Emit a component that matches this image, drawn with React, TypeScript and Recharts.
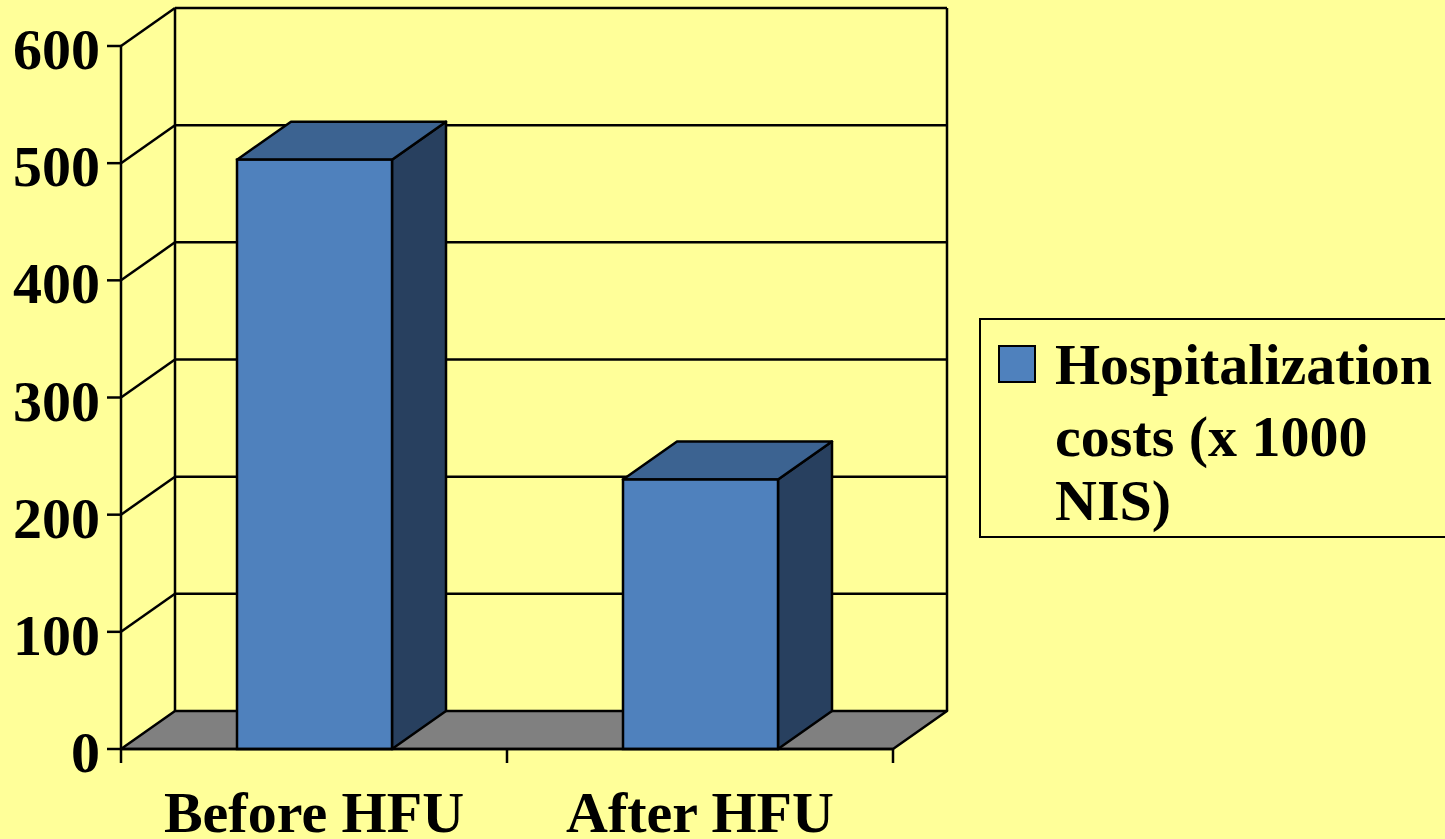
import React from 'react';
import { BarChart, Bar, XAxis, YAxis, CartesianGrid, Legend } from 'recharts';

// Hospitalization costs before and after the heart-failure unit (HFU)
const categories = ['Before HFU', 'After HFU'];
const costs = [503, 230];
const yTicks = [0, 100, 200, 300, 400, 500, 600];
const seriesName = 'Hospitalization costs (x 1000 NIS)';
const legendLines = ['Hospitalization', 'costs (x 1000', 'NIS)'];

const data = categories.map((category, i) => ({ category, costs: costs[i] }));

// depth of the 3D box (shift towards the back wall)
const DX = 54;
const DY = -38;

const FONT = '"Liberation Serif", "Times New Roman", serif';
const BG = '#FFFF99';
const FRONT = '#4F81BD';
const TOP = '#3C6391';
const SIDE = '#28405F';
const FLOOR = '#808080';
const LINE = '#000000';
const SW = 2.5;

const Bar3D = (props: any) => {
  const { x, y, width, height } = props;
  if (width == null || height == null) return null;
  const x2 = x + width;
  const yb = y + height;
  return (
    <g>
      <polygon
        points={`${x2},${y} ${x2 + DX},${y + DY} ${x2 + DX},${yb + DY} ${x2},${yb}`}
        fill={SIDE}
        stroke={LINE}
        strokeWidth={SW}
        strokeLinejoin="round"
      />
      <polygon
        points={`${x},${y} ${x2},${y} ${x2 + DX},${y + DY} ${x + DX},${y + DY}`}
        fill={TOP}
        stroke={LINE}
        strokeWidth={SW}
        strokeLinejoin="round"
      />
      <rect x={x} y={y} width={width} height={height} fill={FRONT} stroke={LINE} strokeWidth={SW} />
    </g>
  );
};

// Back wall, side-wall gridlines and floor, drawn per horizontal grid line
const WallLine = (props: any) => {
  const { x1, y1, x2, x, y, width, height, index } = props;
  const top = y;
  const bottom = y + height;
  const isFloor = Math.abs(y1 - bottom) < 0.5;
  const isTop = Math.abs(y1 - top) < 0.5;
  const parts: React.ReactNode[] = [];
  if (isFloor) {
    parts.push(
      <polygon
        key="floor"
        points={`${x1},${y1} ${x2},${y1} ${x2 + DX},${y1 + DY} ${x1 + DX},${y1 + DY}`}
        fill={FLOOR}
        stroke={LINE}
        strokeWidth={SW}
        strokeLinejoin="round"
      />
    );
    const n = categories.length;
    for (let i = 0; i <= n; i++) {
      const tx = x + (i * width) / n;
      parts.push(<line key={`t${i}`} x1={tx} y1={bottom} x2={tx} y2={bottom + 14} stroke={LINE} strokeWidth={SW} />);
    }
  } else {
    parts.push(<line key="d" x1={x1} y1={y1} x2={x1 + DX} y2={y1 + DY} stroke={LINE} strokeWidth={SW} />);
    parts.push(<line key="b" x1={x1 + DX} y1={y1 + DY} x2={x2 + DX} y2={y1 + DY} stroke={LINE} strokeWidth={SW} />);
  }
  if (isTop) {
    parts.push(<line key="l" x1={x + DX} y1={top + DY} x2={x + DX} y2={bottom + DY} stroke={LINE} strokeWidth={SW} />);
    parts.push(
      <line key="r" x1={x + width + DX} y1={top + DY} x2={x + width + DX} y2={bottom + DY} stroke={LINE} strokeWidth={SW} />
    );
  }
  return <g key={`wall-${index}`}>{parts}</g>;
};

const YTick = (props: any) => {
  const { x, y, payload } = props;
  return (
    <text x={x} y={y + 23} textAnchor="end" fontFamily={FONT} fontWeight={700} fontSize={58} fill="#000">
      {payload.value}
    </text>
  );
};

const XTick = (props: any) => {
  const { x, y, payload } = props;
  return (
    <text x={x} y={y + 83} textAnchor="middle" fontFamily={FONT} fontWeight={700} fontSize={58} fill="#000">
      {payload.value}
    </text>
  );
};

const LegendBox = (props: any) => {
  const entry = props.payload && props.payload[0];
  const color = entry ? entry.color : FRONT;
  const baselines = [66, 138, 202];
  return (
    <svg width={520} height={221} style={{ display: 'block' }}>
      <rect x={1} y={1} width={540} height={218} fill="none" stroke={LINE} strokeWidth={2} />
      <rect x={20} y={28} width={36} height={36} fill={color} stroke={LINE} strokeWidth={2} />
      {legendLines.map((line, i) => (
        <text key={i} x={76} y={baselines[i]} fontFamily={FONT} fontWeight={700} fontSize={58} fill="#000">
          {line}
        </text>
      ))}
    </svg>
  );
};

export default function App() {
  return (
    <div
      style={{
        position: 'absolute',
        left: 0,
        top: 0,
        width: 1445,
        height: 839,
        background: BG,
        overflow: 'hidden',
      }}
    >
      <BarChart
        width={1445}
        height={839}
        data={data}
        margin={{ top: 46, right: 552, bottom: 0, left: 21 }}
      >
        <CartesianGrid horizontal={WallLine as any} vertical={false} stroke={LINE} />
        <XAxis
          dataKey="category"
          height={90}
          tickLine={false}
          tickSize={0}
          tickMargin={0}
          axisLine={{ stroke: LINE, strokeWidth: SW }}
          tick={<XTick />}
          interval={0}
        />
        <YAxis
          width={100}
          domain={[0, 600]}
          ticks={yTicks}
          interval={0}
          tickSize={14}
          tickMargin={7}
          tickLine={{ stroke: LINE, strokeWidth: SW }}
          axisLine={{ stroke: LINE, strokeWidth: SW }}
          tick={<YTick />}
        />
        <Legend
          layout="horizontal"
          align="center"
          verticalAlign="middle"
          content={<LegendBox />}
          wrapperStyle={{ left: 979, top: 318, right: 'auto', bottom: 'auto', width: 520, height: 221 }}
        />
        <Bar
          dataKey="costs"
          name={seriesName}
          fill={FRONT}
          barSize={155}
          shape={<Bar3D />}
          isAnimationActive={false}
        />
      </BarChart>
    </div>
  );
}
